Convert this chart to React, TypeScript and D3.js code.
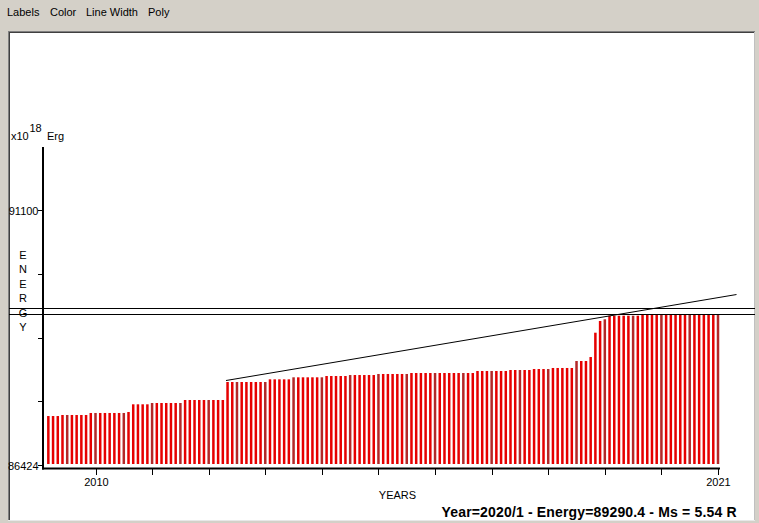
import React from "react";
import * as d3 from "d3";

const W = 759;
const H = 523;

// Monthly cumulative energy (x10^18 Erg), first bar = 2009/3
const startYear = 2009;
const startMonth = 3;
const energy = [
  87322, 87322, 87322,
  87341, 87341, 87341, 87341, 87341, 87341,
  87378, 87378, 87378, 87378, 87378, 87378, 87378, 87378,
  87396,
  87537, 87537, 87537, 87537,
  87561, 87561, 87561, 87561, 87561, 87561, 87561,
  87616, 87616, 87616, 87616, 87616, 87616, 87616, 87616, 87616,
  87946, 87946, 87946, 87946, 87946, 87946, 87946, 87946, 87946,
  87995, 87995, 87995, 87995, 87995,
  88032, 88032, 88032, 88032, 88032, 88032, 88032,
  88056, 88056, 88056, 88056, 88056,
  88074, 88074, 88074, 88074, 88074, 88074,
  88093, 88093, 88093, 88093, 88093, 88093, 88093,
  88111, 88111, 88111, 88111, 88111, 88111, 88111, 88111, 88111, 88111, 88111, 88111, 88111, 88111,
  88148, 88148, 88148, 88148, 88148, 88148, 88148,
  88166, 88166, 88166, 88166, 88166,
  88184, 88184, 88184, 88184,
  88203, 88203, 88203, 88203, 88203,
  88331, 88331, 88331,
  88404,
  88850,
  89065,
  89096,
  89162, 89162, 89162, 89162, 89162, 89162, 89162,
  89187, 89187, 89187, 89187, 89187, 89187, 89187, 89187, 89187, 89187, 89187, 89187, 89187, 89187, 89187, 89187, 89187,
];

const yTicks = [86424, 87593, 88762, 89931, 91100];
const yTickLabels = ["86424", "", "", "", "91100"];
const yMax = 92269;
const xTickYears = [2010, 2011, 2012, 2013, 2014, 2015, 2016, 2017, 2018, 2019, 2020, 2021];
const xTickLabels = ["2010", "", "", "", "", "", "", "", "", "", "", "2021"];
const trendYears = [2012.306, 2021.327];
const trendEnergy = [87973, 89550];
const refLines = [89312, 89187];
const menuItems = ["Labels", "Color", "Line Width", "Poly"];
const menuX = [7, 50, 86, 148];
const axisTitleY = "ENERGY";
const axisTitleX = "YEARS";
const statusText = "Year=2020/1 - Energy=89290.4 - Ms = 5.54 R";

const FONT = "'Liberation Sans', Arial, sans-serif";

export default function App() {
  const x = d3.scaleLinear().domain([2010, 2021]).range([95.5, 718]);
  const y = d3.scaleLinear().domain([86424, yMax]).range([465, 146.25]);
  const barW = 2.5;
  const baseY = 464;
  const trend = d3
    .line<number>()
    .x((_, i) => x(trendYears[i]))
    .y((d) => y(d));

  return (
    <svg
      width={W}
      height={H}
      style={{ position: "absolute", left: 0, top: 0 }}
      fontFamily={FONT}
    >
      <rect x={0} y={0} width={W} height={H} fill="#d4d0c8" />
      {menuItems.map((m, i) => (
        <text key={m} x={menuX[i]} y={16} fontSize={11} fill="#000">
          {m}
        </text>
      ))}
      {/* panel */}
      <rect x={8} y={31} width={747} height={490} fill="#ffffff" />
      <line x1={8} y1={31.5} x2={755} y2={31.5} stroke="#808080" />
      <line x1={9} y1={32.5} x2={754} y2={32.5} stroke="#404040" />
      <line x1={8.5} y1={31} x2={8.5} y2={521} stroke="#808080" />
      <line x1={9.5} y1={32} x2={9.5} y2={520} stroke="#404040" />
      <line x1={754.5} y1={32} x2={754.5} y2={521} stroke="#c0c0c0" />
      <line x1={8} y1={520.5} x2={755} y2={520.5} stroke="#e8e8e8" />

      {/* bars */}
      {energy.map((v, i) => {
        const t = startYear + (startMonth - 1 + i) / 12;
        const cx = x(t);
        return (
          <rect
            key={i}
            x={cx - barW / 2}
            y={y(v)}
            width={barW}
            height={baseY - y(v)}
            fill={i % 6 === 4 ? "#b32828" : "#e60000"}
          />
        );
      })}

      {/* reference lines */}
      {refLines.map((v, i) => (
        <line
          key={i}
          x1={9}
          x2={755}
          y1={Math.round(y(v)) + 0.5}
          y2={Math.round(y(v)) + 0.5}
          stroke="#000"
          strokeWidth={1}
        />
      ))}

      {/* trend line */}
      <path d={trend(trendEnergy) || ""} fill="none" stroke="#000" strokeWidth={1} />

      {/* axes */}
      <line x1={43} y1={147} x2={43} y2={469.5} stroke="#000" strokeWidth={2} />
      <line x1={42} y1={468.5} x2={720} y2={468.5} stroke="#000" strokeWidth={2} />
      {yTicks.map((v, i) => {
        const yy = Math.round(y(v)) + 0.5;
        return (
          <g key={v}>
            <line x1={38} x2={42} y1={yy} y2={yy} stroke="#000" />
            {yTickLabels[i] && (
              <text x={38.5} y={yy + 4} fontSize={11} textAnchor="end" fill="#000">
                {yTickLabels[i]}
              </text>
            )}
          </g>
        );
      })}
      {xTickYears.map((yr, i) => {
        const xx = Math.round(x(yr)) + 0.5;
        return (
          <g key={yr}>
            <line x1={xx} x2={xx} y1={469} y2={475} stroke="#000" />
            {xTickLabels[i] && (
              <text x={xx} y={486} fontSize={11} textAnchor="middle" fill="#000">
                {xTickLabels[i]}
              </text>
            )}
          </g>
        );
      })}

      {/* unit label */}
      <text x={11} y={139.5} fontSize={11} fill="#000">
        x10
      </text>
      <text x={29.5} y={131.5} fontSize={11} fill="#000">
        18
      </text>
      <text x={47} y={139.5} fontSize={11} fill="#000">
        Erg
      </text>

      {/* vertical axis title */}
      {axisTitleY.split("").map((c, i) => (
        <text key={i} x={23} y={259 + i * 14.4} fontSize={11} textAnchor="middle" fill="#000">
          {c}
        </text>
      ))}
      <text x={397.5} y={498.5} fontSize={11} textAnchor="middle" fill="#000">
        {axisTitleX}
      </text>

      <text
        x={441.5}
        y={516.5}
        fontSize={14}
        fontWeight="bold"
        textLength={295}
        lengthAdjust="spacing"
        fill="#000"
      >
        {statusText}
      </text>
    </svg>
  );
}
